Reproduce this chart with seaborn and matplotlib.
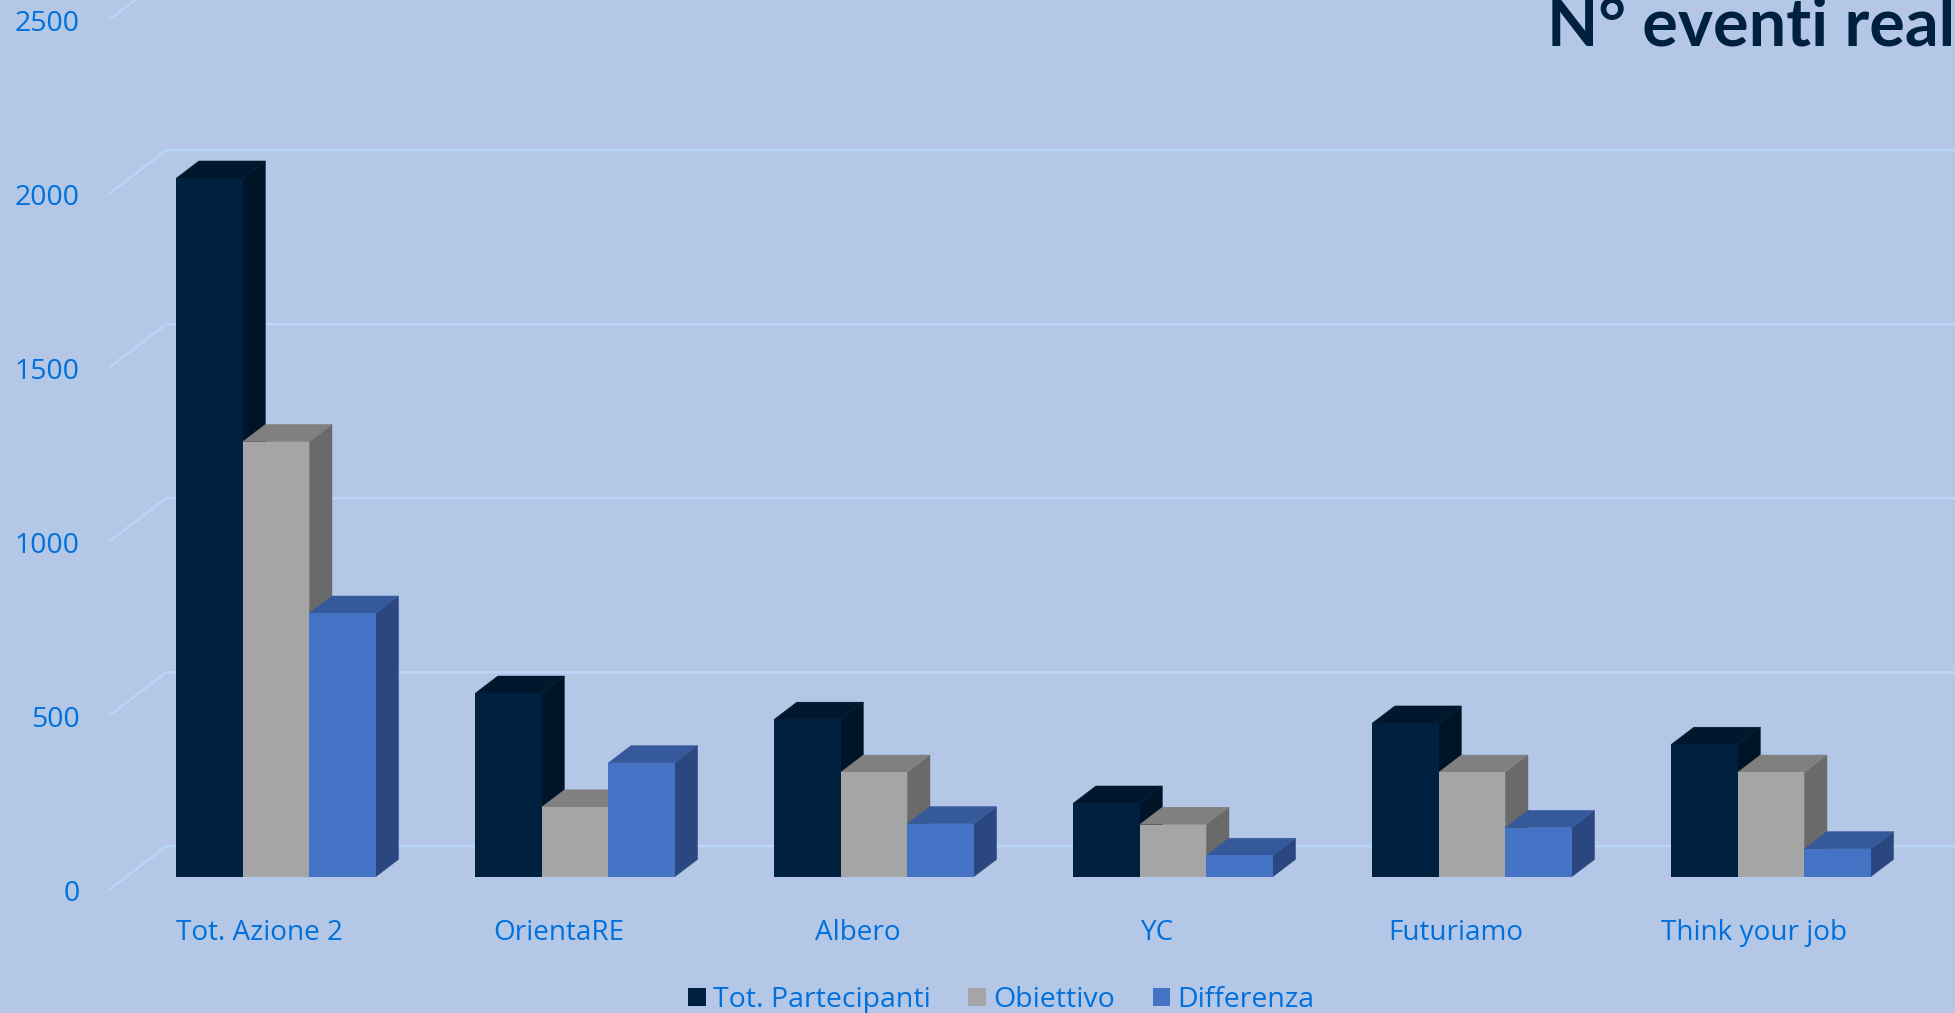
import matplotlib
matplotlib.use("Agg")
import matplotlib.pyplot as plt
from matplotlib.patches import Polygon
from matplotlib.transforms import ScaledTranslation
import pandas as pd
import seaborn as sns

categories = ["Tot. Azione 2", "OrientaRE", "Albero", "YC", "Futuriamo", "Think your job"]
series_names = ["Tot. Partecipanti", "Obiettivo", "Differenza"]
partecipanti = [2007, 527, 452, 211, 441, 380]
obiettivo = [1250, 200, 300, 150, 300, 300]
differenza = [757, 327, 152, 61, 141, 80]
y_ticks = [0, 500, 1000, 1500, 2000, 2500]
title_text = "N° eventi real"

BG = "#B4C7E7"
TXT = "#0070DC"
GRID = "#BAD7FA"
front = ["#00203F", "#A5A5A5", "#4472C4"]
side = ["#001428", "#6A6A6A", "#2A4780"]
top = ["#00172E", "#808080", "#36599C"]

W, H, DPI = 1956, 1013, 100
PX_PER_CAT = 299.0
PX_PER_UNIT = 0.348
X0_PX, Y0_PX = 276.0, 876.7
AX_L_PX, AX_B_PX = 108.7, 890.0

sns.set_theme(style="white", rc={"axes.grid": False})
plt.rcParams["font.family"] = ["Open Sans", "DejaVu Sans"]

df = pd.DataFrame({
    "cat": categories * 3,
    "serie": [s for s in series_names for _ in categories],
    "val": partecipanti + obiettivo + differenza,
})

fig = plt.figure(figsize=(W / DPI, H / DPI), dpi=DPI, facecolor=BG)
ax = fig.add_axes([AX_L_PX / W, (H - AX_B_PX) / H, (W - AX_L_PX) / W, AX_B_PX / H])
ax.set_facecolor(BG)

sns.barplot(data=df, x="cat", y="val", hue="serie", hue_order=series_names,
            order=categories, palette=front, saturation=1, width=0.668,
            linewidth=0, errorbar=None, ax=ax)

ax.set_xlim((AX_L_PX - X0_PX) / PX_PER_CAT, (W - X0_PX) / PX_PER_CAT)
ax.set_ylim((Y0_PX - AX_B_PX) / PX_PER_UNIT, Y0_PX / PX_PER_UNIT)

# Depth of the 3D effect in data units
dx = 22.7 / PX_PER_CAT
dy = 17.3 / PX_PER_UNIT

for i, cont in enumerate(ax.containers):
    z = 3 + i
    for r in cont:
        r.set_zorder(z + 0.1)
        r.set_linewidth(0)
        x0, x1, h = r.get_x(), r.get_x() + r.get_width(), r.get_height()
        ax.add_patch(Polygon([(x1, 0), (x1 + dx, dy), (x1 + dx, h + dy), (x1, h)],
                             closed=True, fc=side[i], ec=side[i], lw=0.3, zorder=z))
        ax.add_patch(Polygon([(x0, h), (x0 + dx, h + dy), (x1 + dx, h + dy), (x1, h)],
                             closed=True, fc=top[i], ec=top[i], lw=0.3, zorder=z))

# Walls: gridline on the back wall and diagonal on the side wall
xl, xr = ax.get_xlim()
back_dx = (166 - AX_L_PX) / PX_PER_CAT
back_dy = (Y0_PX - 846.3) / PX_PER_UNIT
front_dy = (Y0_PX - AX_B_PX) / PX_PER_UNIT
for v in y_ticks:
    ax.plot([xl, xl + back_dx, xr],
            [v + front_dy, v + back_dy, v + back_dy],
            color=GRID, lw=1.7, zorder=1, solid_capstyle="butt")

for s in ax.spines.values():
    s.set_visible(False)

ax.set_xlabel("")
ax.set_ylabel("")
ax.set_yticks(y_ticks)
ax.set_yticklabels([str(v) for v in y_ticks])
ax.set_xticks(range(len(categories)))
ax.set_xticklabels(categories)
ax.tick_params(axis="y", length=0, pad=21.0, labelsize=20.5, labelcolor=TXT)
ax.tick_params(axis="x", length=0, pad=20.9, labelsize=20.1, labelcolor=TXT)

off_y = ScaledTranslation(0, -13.5 / DPI, fig.dpi_scale_trans)
off_x = ScaledTranslation(-16.5 / DPI, 0, fig.dpi_scale_trans)
for lab in ax.get_yticklabels():
    lab.set_transform(lab.get_transform() + off_y)
for lab in ax.get_xticklabels():
    lab.set_transform(lab.get_transform() + off_x)

sns.move_legend(ax, "center", bbox_to_anchor=(1001.5 / W, (H - 1000) / H),
                bbox_transform=fig.transFigure, ncol=3, title=None, frameon=False,
                fontsize=20.5, handlelength=0.63, handleheight=0.63, handletextpad=0.25,
                columnspacing=1.31, borderpad=0, borderaxespad=0, labelcolor=TXT)

fig.text(1547 / W, (H - 45) / H, title_text, family=["Lato", "DejaVu Sans"],
         fontweight="bold", fontsize=48, color="#00203F", ha="left", va="baseline")

fig.savefig("out.png", dpi=DPI, facecolor=BG)
